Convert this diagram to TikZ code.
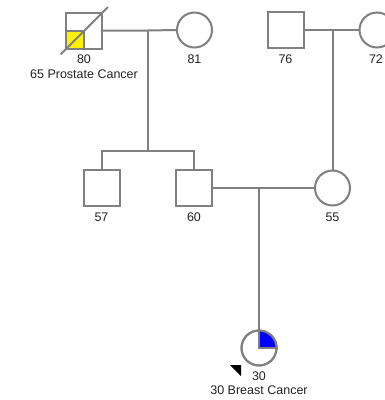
\documentclass[tikz,border=0pt]{standalone}
\usepackage{fontspec}
\setmainfont{Liberation Sans}
\definecolor{linegray}{HTML}{808080}
\definecolor{txt}{HTML}{222222}
\tikzset{
  ind/.style={draw=linegray, line width=2pt, fill=white, inner sep=0pt},
  male/.style={ind, rectangle, minimum size=36pt},
  female/.style={ind, circle, minimum size=35pt},
  lbl/.style={font=\fontsize{12.5}{14}\selectfont, text=txt, inner sep=0pt},
  rel/.style={draw=linegray, line width=2pt},
}
\begin{document}
\begin{tikzpicture}[x=1pt,y=1pt]
\useasboundingbox (0,0) rectangle (385,-400);
\clip (0,0) rectangle (385,-400);
% generation 1
\node[male]   (p80) at (84,-30.5) {};
\node[female] (p81) at (194.5,-30) {};
\node[male]   (p76) at (285.5,-30) {};
\node[female] (p72) at (377,-30) {};
% generation 2
\node[male]   (p57) at (101.5,-188) {};
\node[male]   (p60) at (194,-188) {};
\node[female] (p55) at (332.5,-188) {};
% generation 3
\node[female] (p30) at (259,-348) {};

% affected quadrants
\fill[yellow] (p80.center) rectangle (p80.south west);
\node[male, fill=none] (p80b) at (p80) {};
\draw[rel] (p80.west) -- (p80.center) -- (p80.south);
\coordinate (d1) at (60.7,-54.3);
\coordinate (d2) at (108,-7);
\draw[rel] (d1) -- (d2);

\fill[blue] (p30.center) -- (p30.east) arc[start angle=0,end angle=90,radius=17.5] -- cycle;
\node[female, fill=none] (p30b) at (p30) {};
\draw[rel] (p30.north) -- (p30.center) -- (p30.east);

% relationship lines
\coordinate (m1) at (148,-30.5);
\coordinate (s1) at (148,-151);
\coordinate (s57) at (101.5,-151);
\coordinate (s60) at (194,-151);
\draw[rel] (p80.east) -- (m1) -- (p81.west);
\draw[rel] (m1) -- (s1);
\draw[rel] (p57.north) -- (s57) -- (s60) -- (p60.north);

\coordinate (m2) at (332.5,-30);
\draw[rel] (p76.east) -- (p72.west);
\draw[rel] (m2) -- (p55.north);

\coordinate (m3) at (259,-188);
\draw[rel] (p60.east) -- (p55.west);
\draw[rel] (m3) -- (p30.north);

% proband arrow
\coordinate (a1) at (230,-365);
\coordinate (a2) at (241,-365);
\coordinate (a3) at (241,-376);
\fill[black] (a1) -- (a2) -- (a3) -- cycle;

% labels
\node[lbl] (l80) at (84,-59) {80};
\node[lbl] (l80b) at (84,-74) {65 Prostate Cancer};
\node[lbl] (l81) at (194.5,-59) {81};
\node[lbl] (l76) at (285.5,-59) {76};
\node[lbl] (l72) at (376,-59) {72};
\node[lbl] (l57) at (101.5,-217) {57};
\node[lbl] (l60) at (194,-217) {60};
\node[lbl] (l55) at (332.5,-217) {55};
\node[lbl] (l30) at (259,-376) {30};
\node[lbl] (l30b) at (259,-390) {30 Breast Cancer};
\end{tikzpicture}
\end{document}
